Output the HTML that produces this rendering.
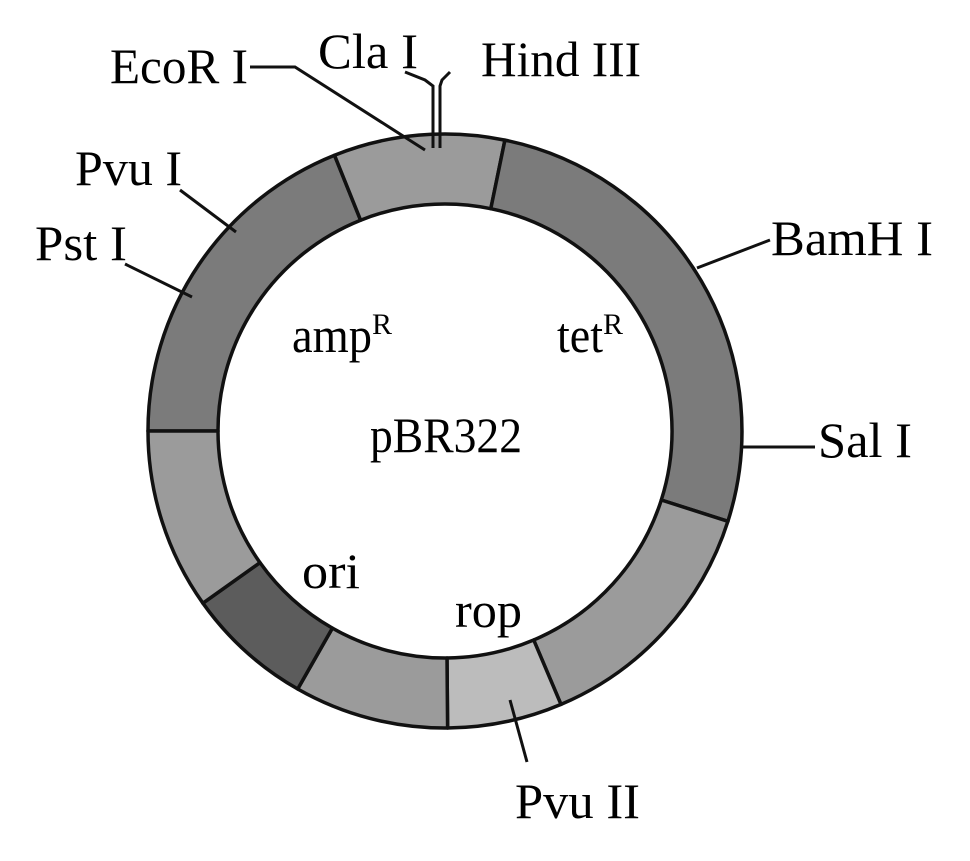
<!DOCTYPE html>
<html><head><style>
html,body{margin:0;padding:0;background:#fff;}
svg{display:block;}
text{font-family:"Liberation Serif",serif;font-size:50px;fill:#000;}
</style></head><body>
<svg width="970" height="861" viewBox="0 0 970 861" xmlns="http://www.w3.org/2000/svg">
<g stroke="#111" stroke-width="3.5" stroke-linejoin="round">
<path fill="#7b7b7b" d="M 148.0 431.0 A 297 297 0 0 1 334.5 155.2 L 360.6 220.2 A 227 227 0 0 0 218.0 431.0 Z"/>
<path fill="#9b9b9b" d="M 334.5 155.2 A 297 297 0 0 1 504.9 140.1 L 490.8 208.7 A 227 227 0 0 0 360.6 220.2 Z"/>
<path fill="#7b7b7b" d="M 504.9 140.1 A 297 297 0 0 1 727.9 521.3 L 661.3 500.0 A 227 227 0 0 0 490.8 208.7 Z"/>
<path fill="#9b9b9b" d="M 727.9 521.3 A 297 297 0 0 1 561.0 704.4 L 533.7 640.0 A 227 227 0 0 0 661.3 500.0 Z"/>
<path fill="#bcbcbc" d="M 561.0 704.4 A 297 297 0 0 1 447.6 728.0 L 447.0 658.0 A 227 227 0 0 0 533.7 640.0 Z"/>
<path fill="#9b9b9b" d="M 447.6 728.0 A 297 297 0 0 1 297.7 689.0 L 332.4 628.1 A 227 227 0 0 0 447.0 658.0 Z"/>
<path fill="#5c5c5c" d="M 297.7 689.0 A 297 297 0 0 1 202.9 603.2 L 260.0 562.6 A 227 227 0 0 0 332.4 628.1 Z"/>
<path fill="#9b9b9b" d="M 202.9 603.2 A 297 297 0 0 1 148.0 431.0 L 218.0 431.0 A 227 227 0 0 0 260.0 562.6 Z"/>
</g>
<g stroke="#111" stroke-width="3" fill="none">
<polyline points="250,67 295,67 425,150"/>
<polyline points="405,72 425,80 433,86 433,148"/>
<polyline points="450,72 442,80 440,86 440,148"/>
<line x1="180" y1="190" x2="236" y2="232"/>
<line x1="125" y1="264" x2="192" y2="297"/>
<line x1="770" y1="240" x2="697" y2="268"/>
<line x1="742" y1="447" x2="815" y2="447"/>
<line x1="510" y1="700" x2="527" y2="762"/>
</g>
<text x="110" y="83" textLength="138" lengthAdjust="spacingAndGlyphs">EcoR I</text>
<text x="318" y="68" textLength="100" lengthAdjust="spacingAndGlyphs">Cla I</text>
<text x="481" y="76" textLength="160" lengthAdjust="spacingAndGlyphs">Hind III</text>
<text x="75" y="185" textLength="107" lengthAdjust="spacingAndGlyphs">Pvu I</text>
<text x="35" y="260" textLength="92" lengthAdjust="spacingAndGlyphs">Pst I</text>
<text x="771" y="255" textLength="162" lengthAdjust="spacingAndGlyphs">BamH I</text>
<text x="818" y="457" textLength="94" lengthAdjust="spacingAndGlyphs">Sal I</text>
<text x="515" y="818" textLength="125" lengthAdjust="spacingAndGlyphs">Pvu II</text>
<text x="292" y="352"><tspan textLength="80" lengthAdjust="spacingAndGlyphs">amp</tspan><tspan font-size="30" dy="-18">R</tspan></text>
<text x="557" y="352"><tspan textLength="46" lengthAdjust="spacingAndGlyphs">tet</tspan><tspan font-size="30" dy="-18">R</tspan></text>
<text x="370" y="452" textLength="152" lengthAdjust="spacingAndGlyphs">pBR322</text>
<text x="302" y="588" textLength="58" lengthAdjust="spacingAndGlyphs">ori</text>
<text x="455" y="627" textLength="67" lengthAdjust="spacingAndGlyphs">rop</text>
</svg>
</body></html>
